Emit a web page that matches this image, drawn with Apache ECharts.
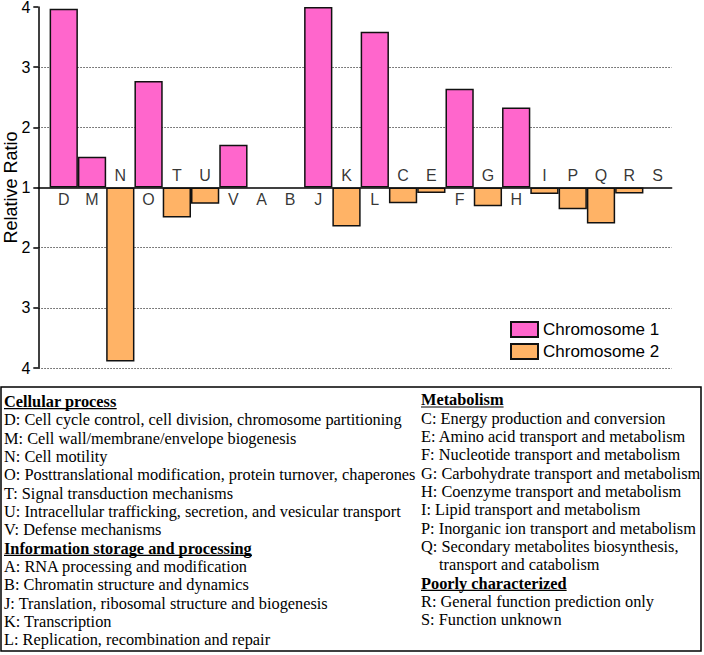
<!DOCTYPE html>
<html><head><meta charset="utf-8">
<script src="https://cdn.jsdelivr.net/npm/echarts@6/dist/echarts.min.js"></script>
<style>html,body{margin:0;padding:0;background:#fff}#c{width:704px;height:655px}</style>
</head><body><div id="c"></div>
<script>
// ---------- data ----------
const categories = ['D','M','N','O','T','U','V','A','B','J','K','L','C','E','F','G','H','I','P','Q','R','S'];
const chromosome1 = [3.97,1.51,null,2.77,null,null,1.71,null,null,4.0,null,3.59,null,null,2.64,null,2.33,null,null,null,null,null];
const chromosome2 = [null,null,3.89,null,1.50,1.27,null,null,null,null,1.65,null,1.26,1.09,null,1.31,null,1.11,1.36,1.60,1.10,null];
const labelsAbove = ['N','T','U','K','C','E','G','I','P','Q','R','S'];
const yTickLabels = ['4','3','2','1','2','3','4'];
const seriesNames = ['Chromosome 1','Chromosome 2'];
const yAxisTitle = 'Relative Ratio';

const headCellular = 'Cellular process';
const cellularItems = [
  'D: Cell cycle control, cell division, chromosome partitioning',
  'M: Cell wall/membrane/envelope biogenesis',
  'N: Cell motility',
  'O: Posttranslational modification, protein turnover, chaperones',
  'T: Signal transduction mechanisms',
  'U: Intracellular trafficking, secretion, and vesicular transport',
  'V: Defense mechanisms'
];
const headInfo = 'Information storage and processing';
const infoItems = [
  'A: RNA processing and modification',
  'B: Chromatin structure and dynamics',
  'J: Translation, ribosomal structure and biogenesis',
  'K: Transcription',
  'L: Replication, recombination and repair'
];
const headMetabolism = 'Metabolism';
const metabolismItems = [
  'C: Energy production and conversion',
  'E: Amino acid transport and metabolism',
  'F: Nucleotide transport and metabolism',
  'G: Carbohydrate transport and metabolism',
  'H: Coenzyme transport and metabolism',
  'I: Lipid transport and metabolism',
  'P: Inorganic ion transport and metabolism',
  'Q: Secondary metabolites biosynthesis,',
  'transport and catabolism'
];
const headPoorly = 'Poorly characterized';
const poorlyItems = [
  'R: General function prediction only',
  'S: Function unknown'
];

// ---------- build ----------
const SERIF = '"Liberation Serif","Times New Roman",serif';
const SANS = '"Liberation Sans",Arial,sans-serif';
const FS = 16;
const cv = document.createElement('canvas').getContext('2d');
function measure(t, bold){ cv.font = (bold?'bold ':'') + FS + 'px ' + SERIF; return cv.measureText(t).width; }
const SX = Math.min(1.05, Math.max(0.9, 398 / measure(cellularItems[0], false)));

const graphics = [];
graphics.push({type:'rect', shape:{x:1, y:387, width:700, height:264}, style:{fill:'none', stroke:'#000', lineWidth:1.5}, z:1});
function addText(t, x, y, bold){
  graphics.push({type:'text', x:x, y:y, scaleX:SX, style:{text:t, font:(bold?'bold ':'') + FS + 'px ' + SERIF, fill:'#000', verticalAlign:'middle', align:'left'}});
  if(bold){
    const w = measure(t, true) * SX;
    graphics.push({type:'line', shape:{x1:x, y1:y+7, x2:x+w, y2:y+7}, style:{stroke:'#000', lineWidth:1.2}});
  }
}
const STEP = 18.33;
let yL = 401.7;
const xL = 4;
addText(headCellular, xL, yL, true); yL += STEP;
cellularItems.forEach(t => { addText(t, xL, yL, false); yL += STEP; });
addText(headInfo, xL, yL, true); yL += STEP;
infoItems.forEach(t => { addText(t, xL, yL, false); yL += STEP; });
let yR = 400;
const xR = 421;
addText(headMetabolism, xR, yR, true); yR += STEP;
metabolismItems.forEach((t, i) => { addText(t, i === metabolismItems.length - 1 ? xR + 18 : xR, yR, false); yR += STEP; });
addText(headPoorly, xR, yR, true); yR += STEP;
poorlyItems.forEach(t => { addText(t, xR, yR, false); yR += STEP; });

const d1 = [], d2 = [];
categories.forEach((c, i) => {
  if (chromosome1[i] != null) d1.push([i, chromosome1[i] - 1]);
  if (chromosome2[i] != null) d2.push([i, -(chromosome2[i] - 1)]);
});
const labelData = categories.map((c, i) => ({
  value: [i, 0],
  label: { position: labelsAbove.includes(c) ? 'top' : 'bottom', formatter: c }
}));

const GRID_LEFT = 38.3, GRID_RIGHT = 32.3, X_MIN = -0.9, X_MAX = categories.length - 0.5;
const BAR_W = (704 - GRID_LEFT - GRID_RIGHT) / (X_MAX - X_MIN);
const barStyle = (color) => ({ color: color, borderColor: '#111', borderWidth: 1.5 });
const chart = echarts.init(document.getElementById('c'), null, {renderer:'svg'});
chart.setOption({
  animation: false,
  backgroundColor: '#fff',
  grid: { left: GRID_LEFT, right: GRID_RIGHT, top: 7, bottom: 287, containLabel: false, outerBoundsMode: 'none' },
  legend: {
    data: seriesNames, orient: 'vertical', left: 510, top: 321, padding: 0,
    itemWidth: 27, itemHeight: 15, itemGap: 5, icon: 'rect',
    textStyle: { fontSize: 17, fontFamily: SANS, color: '#000' }
  },
  xAxis: {
    type: 'value', min: X_MIN, max: X_MAX,
    axisLine: { show: true, onZero: true, lineStyle: { color: '#000', width: 1.5 } },
    axisTick: { show: false }, axisLabel: { show: false }, splitLine: { show: false }
  },
  yAxis: {
    type: 'value', min: -3, max: 3, interval: 1,
    name: yAxisTitle, nameLocation: 'middle', nameGap: 18, nameRotate: 90, nameMoveOverlap: false,
    nameTextStyle: { fontSize: 18, fontFamily: SANS, color: '#000' },
    axisLine: { show: true, onZero: false, lineStyle: { color: '#000', width: 1.5 } },
    axisTick: { show: true, length: 5, lineStyle: { color: '#000', width: 1.5 } },
    axisLabel: { fontSize: 16, fontFamily: SANS, color: '#000', margin: 8,
      formatter: v => yTickLabels[3 - Math.round(v)] },
    splitLine: { show: true, showMaxLine: false,
      lineStyle: { type: [1.5, 1.5], width: 1,
        color: ['#555','#555','#555','rgba(0,0,0,0)','#555','#555','rgba(0,0,0,0)'] } }
  },
  series: [
    { name: seriesNames[0], type: 'bar', data: d1, barWidth: BAR_W, barGap: '-100%', itemStyle: barStyle('#FF66CC'), z: 2 },
    { name: seriesNames[1], type: 'bar', data: d2, barWidth: BAR_W, barGap: '-100%', itemStyle: barStyle('#FFB366'), z: 2 },
    { name: 'labels', type: 'scatter', data: labelData, symbolSize: 0, silent: true, z: 5,
      label: { show: true, distance: 4, fontSize: 16, fontFamily: SANS, color: '#000' } }
  ],
  graphic: graphics
});
</script></body></html>
